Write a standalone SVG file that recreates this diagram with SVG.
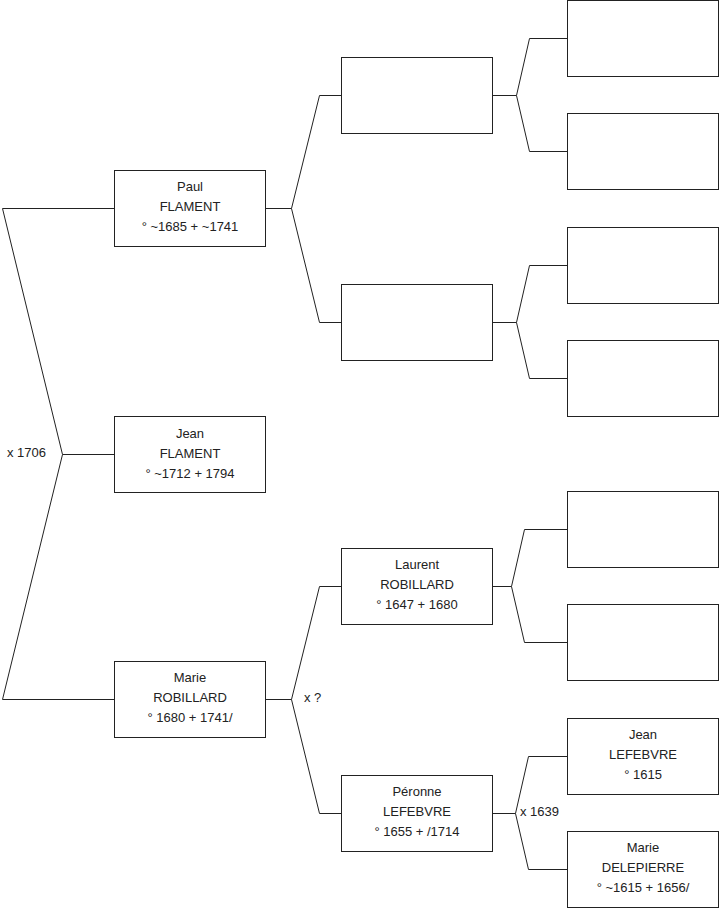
<svg xmlns="http://www.w3.org/2000/svg" width="719" height="908" viewBox="0 0 719 908">
<style>
rect.b{fill:#fff;stroke:#222;stroke-width:1}
text{font-family:"Liberation Sans",Arial,sans-serif;font-size:13px;fill:#222}
.t{text-anchor:middle}
.c{fill:none;stroke:#222;stroke-width:1}
</style>
<rect width="719" height="908" fill="#fff"/>
<g id="connectors" class="c">
<path class="c" d="M114.5,208.5H2.5L62.5,454.5H114.5M62.5,454.5L2.5,699.5H114.5"/>
<path class="c" d="M341.5,95.5H319.5L291.5,208.5H265.5M291.5,208.5L319.5,322.5H341.5"/>
<path class="c" d="M567.5,38.5H529.5L516.5,95.5H492.5M516.5,95.5L529.5,151.5H567.5"/>
<path class="c" d="M567.5,265.5H529.5L516.5,322.5H492.5M516.5,322.5L529.5,378.5H567.5"/>
<path class="c" d="M567.5,529.5H524.5L511.5,586.5H492.5M511.5,586.5L524.5,642.5H567.5"/>
<path class="c" d="M341.5,586.5H319.5L291.5,699.5H265.5M291.5,699.5L319.5,813.5H341.5"/>
<path class="c" d="M567.5,756.5H528.5L515.5,813.5H492.5M515.5,813.5L528.5,869.5H567.5"/>
<text x="7" y="457" style="stroke:none">x 1706</text>
<text x="304" y="702" style="stroke:none">x ?</text>
<text x="520" y="816" style="stroke:none">x 1639</text>
</g>
<g id="paul"><rect class="b" x="114.5" y="170.5" width="151" height="76"/><text class="t" x="190" y="191">Paul</text><text class="t" x="190" y="211">FLAMENT</text><text class="t" x="190" y="231">° ~1685 + ~1741</text></g>
<g id="jean"><rect class="b" x="114.5" y="416.5" width="151" height="76"/><text class="t" x="190" y="438">Jean</text><text class="t" x="190" y="458">FLAMENT</text><text class="t" x="190" y="478">° ~1712 + 1794</text></g>
<g id="marie"><rect class="b" x="114.5" y="661.5" width="151" height="76"/><text class="t" x="190" y="682">Marie</text><text class="t" x="190" y="702">ROBILLARD</text><text class="t" x="190" y="722">° 1680 + 1741/</text></g>
<g id="p1"><rect class="b" x="341.5" y="57.5" width="151" height="76"/></g>
<g id="p2"><rect class="b" x="341.5" y="284.5" width="151" height="76"/></g>
<g id="laurent"><rect class="b" x="341.5" y="548.5" width="151" height="76"/><text class="t" x="417" y="569">Laurent</text><text class="t" x="417" y="589">ROBILLARD</text><text class="t" x="417" y="609">° 1647 + 1680</text></g>
<g id="peronne"><rect class="b" x="341.5" y="775.5" width="151" height="76"/><text class="t" x="417" y="796">Péronne</text><text class="t" x="417" y="816">LEFEBVRE</text><text class="t" x="417" y="836">° 1655 + /1714</text></g>
<g id="g1"><rect class="b" x="567.5" y="0.5" width="151" height="76"/></g>
<g id="g2"><rect class="b" x="567.5" y="113.5" width="151" height="76"/></g>
<g id="g3"><rect class="b" x="567.5" y="227.5" width="151" height="76"/></g>
<g id="g4"><rect class="b" x="567.5" y="340.5" width="151" height="76"/></g>
<g id="g5"><rect class="b" x="567.5" y="491.5" width="151" height="76"/></g>
<g id="g6"><rect class="b" x="567.5" y="604.5" width="151" height="76"/></g>
<g id="jeanl"><rect class="b" x="567.5" y="718.5" width="151" height="76"/><text class="t" x="643" y="739">Jean</text><text class="t" x="643" y="759">LEFEBVRE</text><text class="t" x="643" y="779">° 1615</text></g>
<g id="maried"><rect class="b" x="567.5" y="831.5" width="151" height="76"/><text class="t" x="643" y="852">Marie</text><text class="t" x="643" y="872">DELEPIERRE</text><text class="t" x="643" y="892">° ~1615 + 1656/</text></g>
</svg>
